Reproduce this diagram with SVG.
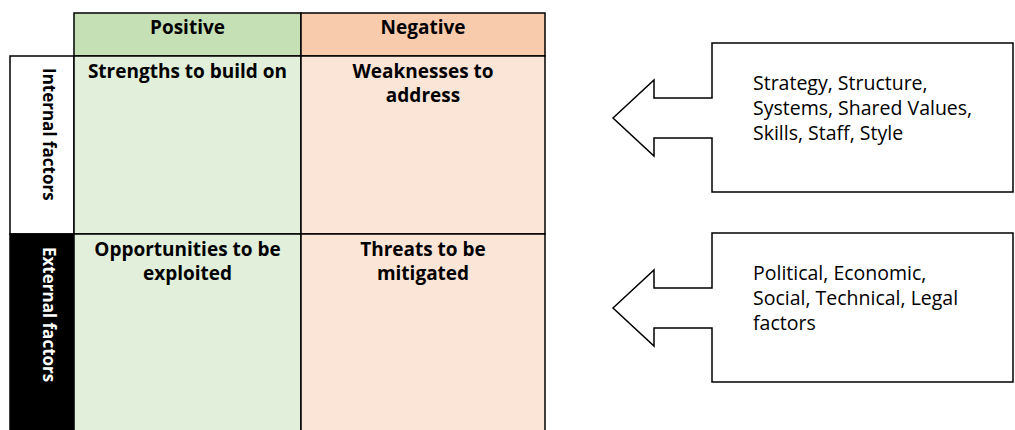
<svg xmlns="http://www.w3.org/2000/svg" width="1015" height="430" viewBox="0 0 1015 430">
  <style>
    .cell { stroke: #000; stroke-width: 1.5; }
    .pos-head { fill: #c5e0b4; }
    .pos-body { fill: #e2efda; }
    .neg-head { fill: #f8cbad; }
    .neg-body { fill: #fbe5d6; }
    .bold { font-family: "Open Sans", "Liberation Sans", sans-serif; font-weight: bold; font-size: 19px; fill: #000; }
    .side { font-family: "Open Sans", "Liberation Sans", sans-serif; font-weight: bold; font-size: 17px; }
    .plain { font-family: "Open Sans", "Liberation Sans", sans-serif; font-size: 19.5px; fill: #000; }
    .arrow { fill: #fff; stroke: #000; stroke-width: 1.5; stroke-linejoin: miter; }
  </style>

  <rect width="1015" height="430" fill="#fff"/>

  <!-- column headers -->
  <g id="header-positive">
    <rect class="cell pos-head" x="74" y="13" width="227" height="43"/>
    <text class="bold" x="187.5" y="34" text-anchor="middle">Positive</text>
  </g>
  <g id="header-negative">
    <rect class="cell neg-head" x="301" y="13" width="244" height="43"/>
    <text class="bold" x="423" y="34" text-anchor="middle">Negative</text>
  </g>

  <!-- row headers -->
  <g id="row-internal">
    <rect class="cell" x="10" y="56" width="64" height="178" fill="#fff"/>
    <text class="side" transform="translate(43,68) rotate(90)" fill="#000">Internal factors</text>
  </g>
  <g id="row-external">
    <rect class="cell" x="10" y="234" width="64" height="210" fill="#000"/>
    <text class="side" transform="translate(43,247) rotate(90)" fill="#fff">External factors</text>
  </g>

  <!-- quadrants -->
  <g id="strengths">
    <rect class="cell pos-body" x="74" y="56" width="227" height="178"/>
    <text class="bold" x="187.5" y="78" text-anchor="middle">Strengths to build on</text>
  </g>
  <g id="weaknesses">
    <rect class="cell neg-body" x="301" y="56" width="244" height="178"/>
    <text class="bold" text-anchor="middle"><tspan x="423" y="78">Weaknesses to</tspan><tspan x="423" y="102">address</tspan></text>
  </g>
  <g id="opportunities">
    <rect class="cell pos-body" x="74" y="234" width="227" height="210"/>
    <text class="bold" text-anchor="middle"><tspan x="187.5" y="256">Opportunities to be</tspan><tspan x="187.5" y="280">exploited</tspan></text>
  </g>
  <g id="threats">
    <rect class="cell neg-body" x="301" y="234" width="244" height="210"/>
    <text class="bold" text-anchor="middle"><tspan x="423" y="256">Threats to be</tspan><tspan x="423" y="280">mitigated</tspan></text>
  </g>

  <!-- callout arrows feeding the grid -->
  <g id="connectors">
    <g id="internal-callout">
      <path class="arrow" d="M613,118 L654,80 L654,98 L712,98 L712,43 L1013,43 L1013,192 L712,192 L712,138 L654,138 L654,156 Z"/>
      <text class="plain"><tspan x="753" y="90">Strategy, Structure,</tspan><tspan x="753" y="115">Systems, Shared Values,</tspan><tspan x="753" y="140">Skills, Staff, Style</tspan></text>
    </g>
    <g id="external-callout">
      <path class="arrow" d="M613,308 L654,270 L654,288 L712,288 L712,233 L1013,233 L1013,382 L712,382 L712,328 L654,328 L654,346 Z"/>
      <text class="plain"><tspan x="753" y="280">Political, Economic,</tspan><tspan x="753" y="305">Social, Technical, Legal</tspan><tspan x="753" y="330">factors</tspan></text>
    </g>
  </g>
</svg>
